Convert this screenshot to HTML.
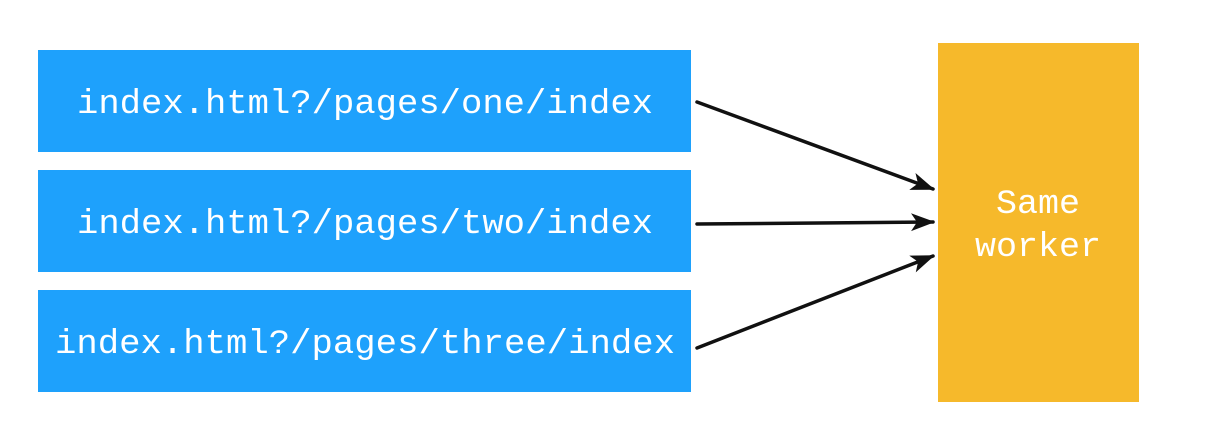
<!DOCTYPE html>
<html><head><meta charset="utf-8"><style>
html,body{margin:0;padding:0;background:#fff;width:1206px;height:448px;overflow:hidden}
</style></head><body>
<svg width="1206" height="448" viewBox="0 0 1206 448" xmlns="http://www.w3.org/2000/svg">
<defs>
<marker id="ah" markerWidth="24" markerHeight="20" refX="22" refY="10" orient="auto" markerUnits="userSpaceOnUse" viewBox="0 0 24 20">
<path d="M0,1 L24,10 L0,19 L6,10 Z" fill="#111"/>
</marker>
</defs>
<g>
<rect x="38" y="50" width="653" height="102" fill="#1EA1FC"/>
<text x="77" y="113" textLength="576" lengthAdjust="spacingAndGlyphs" font-family="Liberation Mono, monospace" font-size="34" fill="#fff">index.html?/pages/one/index</text>
</g>
<g>
<rect x="38" y="170" width="653" height="102" fill="#1EA1FC"/>
<text x="77" y="233" textLength="576" lengthAdjust="spacingAndGlyphs" font-family="Liberation Mono, monospace" font-size="34" fill="#fff">index.html?/pages/two/index</text>
</g>
<g>
<rect x="38" y="290" width="653" height="102" fill="#1EA1FC"/>
<text x="55" y="353" textLength="620" lengthAdjust="spacingAndGlyphs" font-family="Liberation Mono, monospace" font-size="34" fill="#fff">index.html?/pages/three/index</text>
</g>
<g>
<rect x="938" y="43" width="201" height="359" fill="#F6B92B"/>
<text x="1038" y="213" text-anchor="middle" textLength="84" lengthAdjust="spacingAndGlyphs" font-family="Liberation Mono, monospace" font-size="34" fill="#fff">Same</text>
<text x="1038" y="256" text-anchor="middle" textLength="126" lengthAdjust="spacingAndGlyphs" font-family="Liberation Mono, monospace" font-size="34" fill="#fff">worker</text>
</g>
<g stroke="#111" stroke-width="3.5" fill="none" stroke-linecap="round">
<line x1="697" y1="102" x2="933" y2="189" marker-end="url(#ah)"/>
<line x1="697" y1="224" x2="933" y2="222" marker-end="url(#ah)"/>
<line x1="697" y1="348" x2="933" y2="256" marker-end="url(#ah)"/>
</g>
</svg>
</body></html>
